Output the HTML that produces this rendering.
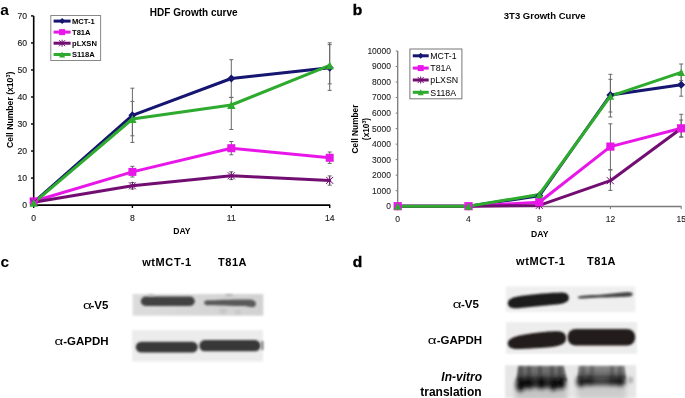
<!DOCTYPE html>
<html><head><meta charset="utf-8"><title>Figure</title>
<style>html,body{margin:0;padding:0;background:#fff;}body{width:685px;height:398px;overflow:hidden;}svg{display:block;}
text{font-family:"Liberation Sans", sans-serif;}</style></head>
<body><svg width="685" height="398" viewBox="0 0 685 398"><defs><filter id="b1" x="0" y="0" width="685" height="398" filterUnits="userSpaceOnUse"><feGaussianBlur stdDeviation="0.9"/></filter><linearGradient id="gc1" x1="0" y1="0" x2="1" y2="0"><stop offset="0" stop-color="#dcdcdc"/><stop offset="1" stop-color="#d2d2d2"/></linearGradient><linearGradient id="giv" x1="0" y1="0" x2="0" y2="1"><stop offset="0" stop-color="#d4d4d4"/><stop offset="1" stop-color="#e2e2e2"/></linearGradient><linearGradient id="gs1" x1="0" y1="0" x2="0" y2="1"><stop offset="0" stop-color="#7a7a7a"/><stop offset="1" stop-color="#555555"/></linearGradient><linearGradient id="gs2" x1="0" y1="0" x2="0" y2="1"><stop offset="0" stop-color="#8c8c8c"/><stop offset="1" stop-color="#606060"/></linearGradient><filter id="b3" x="0" y="0" width="685" height="398" filterUnits="userSpaceOnUse"><feGaussianBlur stdDeviation="2.5"/></filter><filter id="b4" x="0" y="0" width="685" height="398" filterUnits="userSpaceOnUse"><feGaussianBlur stdDeviation="2.0"/></filter><filter id="b2" x="0" y="0" width="685" height="398" filterUnits="userSpaceOnUse"><feGaussianBlur stdDeviation="1.6"/></filter><filter id="gb" x="0" y="0" width="685" height="398" filterUnits="userSpaceOnUse"><feGaussianBlur stdDeviation="0.35"/></filter></defs><rect width="685" height="398" fill="#fff"/><g filter="url(#gb)"><path d="M33.7 15.9L33.7 205.1L330.2 205.1" stroke="#000" stroke-width="1.6" fill="none"/><path d="M31 205.10L33.7 205.10" stroke="#000" stroke-width="1.4"/><path d="M31 178.07L33.7 178.07" stroke="#000" stroke-width="1.4"/><path d="M31 151.04L33.7 151.04" stroke="#000" stroke-width="1.4"/><path d="M31 124.01L33.7 124.01" stroke="#000" stroke-width="1.4"/><path d="M31 96.99L33.7 96.99" stroke="#000" stroke-width="1.4"/><path d="M31 69.96L33.7 69.96" stroke="#000" stroke-width="1.4"/><path d="M31 42.93L33.7 42.93" stroke="#000" stroke-width="1.4"/><path d="M31 15.90L33.7 15.90" stroke="#000" stroke-width="1.4"/><path d="M33.7 205.1L33.7 208" stroke="#000" stroke-width="1.4"/><path d="M132.4 205.1L132.4 208" stroke="#000" stroke-width="1.4"/><path d="M231.3 205.1L231.3 208" stroke="#000" stroke-width="1.4"/><path d="M329.7 205.1L329.7 208" stroke="#000" stroke-width="1.4"/><text x="0" y="0" font-size="9.5" text-anchor="end" fill="#1e1e1e" stroke="#1e1e1e" stroke-width="0.15" transform="translate(27.1 208.10) scale(0.91 1)">0</text><text x="0" y="0" font-size="9.5" text-anchor="end" fill="#1e1e1e" stroke="#1e1e1e" stroke-width="0.15" transform="translate(27.1 181.07) scale(0.91 1)">10</text><text x="0" y="0" font-size="9.5" text-anchor="end" fill="#1e1e1e" stroke="#1e1e1e" stroke-width="0.15" transform="translate(27.1 154.04) scale(0.91 1)">20</text><text x="0" y="0" font-size="9.5" text-anchor="end" fill="#1e1e1e" stroke="#1e1e1e" stroke-width="0.15" transform="translate(27.1 127.01) scale(0.91 1)">30</text><text x="0" y="0" font-size="9.5" text-anchor="end" fill="#1e1e1e" stroke="#1e1e1e" stroke-width="0.15" transform="translate(27.1 99.99) scale(0.91 1)">40</text><text x="0" y="0" font-size="9.5" text-anchor="end" fill="#1e1e1e" stroke="#1e1e1e" stroke-width="0.15" transform="translate(27.1 72.96) scale(0.91 1)">50</text><text x="0" y="0" font-size="9.5" text-anchor="end" fill="#1e1e1e" stroke="#1e1e1e" stroke-width="0.15" transform="translate(27.1 45.93) scale(0.91 1)">60</text><text x="0" y="0" font-size="9.5" text-anchor="end" fill="#1e1e1e" stroke="#1e1e1e" stroke-width="0.15" transform="translate(27.1 18.90) scale(0.91 1)">70</text><text x="0" y="0" font-size="9.1" text-anchor="middle" fill="#1e1e1e" stroke="#1e1e1e" stroke-width="0.15" transform="translate(33.7 220.6) scale(0.95 1)">0</text><text x="0" y="0" font-size="9.1" text-anchor="middle" fill="#1e1e1e" stroke="#1e1e1e" stroke-width="0.15" transform="translate(132.4 220.6) scale(0.95 1)">8</text><text x="0" y="0" font-size="9.1" text-anchor="middle" fill="#1e1e1e" stroke="#1e1e1e" stroke-width="0.15" transform="translate(231.3 220.6) scale(0.95 1)">11</text><text x="0" y="0" font-size="9.1" text-anchor="middle" fill="#1e1e1e" stroke="#1e1e1e" stroke-width="0.15" transform="translate(329.7 220.6) scale(0.95 1)">14</text><text x="181.90" y="233.90" font-family='"Liberation Sans", sans-serif' font-size="8.6" font-weight="bold" font-style="normal" text-anchor="middle" >DAY</text><text x="193.70" y="16.00" font-family='"Liberation Sans", sans-serif' font-size="10" font-weight="bold" font-style="normal" text-anchor="middle" >HDF Growth curve</text><text x="12.90" y="109.90" font-family='"Liberation Sans", sans-serif' font-size="8.65" font-weight="bold" font-style="normal" text-anchor="middle" transform="rotate(-90 12.9 109.9)">Cell Number (x10<tspan font-size="5.4" dy="-3.2">3</tspan><tspan dy="3.2">)</tspan></text><polyline points="33.70,202.30 132.40,115.30 231.30,78.50 329.70,67.70" fill="none" stroke="#141470" stroke-width="3" stroke-linejoin="round" stroke-linecap="round"/><polyline points="33.70,201.30 132.40,171.90 231.30,148.20 329.70,157.80" fill="none" stroke="#e818e8" stroke-width="3" stroke-linejoin="round" stroke-linecap="round"/><polyline points="33.70,202.30 132.40,185.80 231.30,175.80 329.70,180.40" fill="none" stroke="#720c72" stroke-width="3" stroke-linejoin="round" stroke-linecap="round"/><polyline points="33.70,202.80 132.40,119.00 231.30,105.00 329.70,65.40" fill="none" stroke="#2eaa2e" stroke-width="3" stroke-linejoin="round" stroke-linecap="round"/><path d="M132.40 88.20L132.40 142.40M130.40 88.20L134.40 88.20M130.40 142.40L134.40 142.40" stroke="#686868" stroke-width="1.0" fill="none"/><path d="M231.30 59.70L231.30 97.40M229.30 59.70L233.30 59.70M229.30 97.40L233.30 97.40" stroke="#686868" stroke-width="1.0" fill="none"/><path d="M329.70 44.60L329.70 90.40M327.70 44.60L331.70 44.60M327.70 90.40L331.70 90.40" stroke="#686868" stroke-width="1.0" fill="none"/><path d="M132.40 101.40L132.40 135.80M130.40 101.40L134.40 101.40M130.40 135.80L134.40 135.80" stroke="#686868" stroke-width="1.0" fill="none"/><path d="M231.30 97.40L231.30 129.50M229.30 97.40L233.30 97.40M229.30 129.50L233.30 129.50" stroke="#686868" stroke-width="1.0" fill="none"/><path d="M329.70 42.80L329.70 83.90M327.70 42.80L331.70 42.80M327.70 83.90L331.70 83.90" stroke="#686868" stroke-width="1.0" fill="none"/><path d="M132.40 166.30L132.40 177.00M130.40 166.30L134.40 166.30M130.40 177.00L134.40 177.00" stroke="#686868" stroke-width="1.0" fill="none"/><path d="M231.30 141.50L231.30 154.80M229.30 141.50L233.30 141.50M229.30 154.80L233.30 154.80" stroke="#686868" stroke-width="1.0" fill="none"/><path d="M329.70 152.00L329.70 163.40M327.70 152.00L331.70 152.00M327.70 163.40L331.70 163.40" stroke="#686868" stroke-width="1.0" fill="none"/><path d="M132.40 182.50L132.40 189.00M130.40 182.50L134.40 182.50M130.40 189.00L134.40 189.00" stroke="#686868" stroke-width="1.0" fill="none"/><path d="M231.30 171.80L231.30 179.60M229.30 171.80L233.30 171.80M229.30 179.60L233.30 179.60" stroke="#686868" stroke-width="1.0" fill="none"/><path d="M329.70 175.90L329.70 185.20M327.70 175.90L331.70 175.90M327.70 185.20L331.70 185.20" stroke="#686868" stroke-width="1.0" fill="none"/><path d="M29.70 202.30L33.70 198.30L37.70 202.30L33.70 206.30Z" fill="#141470"/><path d="M128.40 115.30L132.40 111.30L136.40 115.30L132.40 119.30Z" fill="#141470"/><path d="M227.30 78.50L231.30 74.50L235.30 78.50L231.30 82.50Z" fill="#141470"/><path d="M325.70 67.70L329.70 63.70L333.70 67.70L329.70 71.70Z" fill="#141470"/><rect x="29.70" y="197.30" width="8" height="8" fill="#e818e8"/><rect x="128.40" y="167.90" width="8" height="8" fill="#e818e8"/><rect x="227.30" y="144.20" width="8" height="8" fill="#e818e8"/><rect x="325.70" y="153.80" width="8" height="8" fill="#e818e8"/><path d="M30.20 198.80L37.20 205.80M30.20 205.80L37.20 198.80M33.70 198.30L33.70 206.30" stroke="#720c72" stroke-width="1" fill="none"/><path d="M128.90 182.30L135.90 189.30M128.90 189.30L135.90 182.30M132.40 181.80L132.40 189.80" stroke="#720c72" stroke-width="1" fill="none"/><path d="M227.80 172.30L234.80 179.30M227.80 179.30L234.80 172.30M231.30 171.80L231.30 179.80" stroke="#720c72" stroke-width="1" fill="none"/><path d="M326.20 176.90L333.20 183.90M326.20 183.90L333.20 176.90M329.70 176.40L329.70 184.40" stroke="#720c72" stroke-width="1" fill="none"/><path d="M29.50 206.70L33.70 198.90L37.90 206.70Z" fill="#2eaa2e"/><path d="M128.20 122.90L132.40 115.10L136.60 122.90Z" fill="#2eaa2e"/><path d="M227.10 108.90L231.30 101.10L235.50 108.90Z" fill="#2eaa2e"/><path d="M325.50 69.30L329.70 61.50L333.90 69.30Z" fill="#2eaa2e"/><rect x="50.8" y="15.5" width="49.8" height="45" fill="#fff" stroke="#888" stroke-width="1"/><path d="M53.6 21.1L70.6 21.1" stroke="#141470" stroke-width="3"/><path d="M59.10 21.10L62.10 18.10L65.10 21.10L62.10 24.10Z" fill="#141470"/><text x="72.00" y="23.80" font-family='"Liberation Sans", sans-serif' font-size="7.6" font-weight="bold" font-style="normal" text-anchor="start" >MCT-1</text><path d="M53.6 32.1L70.6 32.1" stroke="#e818e8" stroke-width="3"/><rect x="59.10" y="29.10" width="6" height="6" fill="#e818e8"/><text x="72.00" y="34.80" font-family='"Liberation Sans", sans-serif' font-size="7.6" font-weight="bold" font-style="normal" text-anchor="start" >T81A</text><path d="M53.6 43.2L70.6 43.2" stroke="#720c72" stroke-width="3"/><path d="M59.10 40.20L65.10 46.20M59.10 46.20L65.10 40.20M62.10 39.70L62.10 46.70" stroke="#720c72" stroke-width="1" fill="none"/><text x="72.00" y="45.90" font-family='"Liberation Sans", sans-serif' font-size="7.6" font-weight="bold" font-style="normal" text-anchor="start" >pLXSN</text><path d="M53.6 54.5L70.6 54.5" stroke="#2eaa2e" stroke-width="3"/><path d="M59.10 57.50L62.10 51.50L65.10 57.50Z" fill="#2eaa2e"/><text x="72.00" y="57.20" font-family='"Liberation Sans", sans-serif' font-size="7.6" font-weight="bold" font-style="normal" text-anchor="start" >S118A</text><path d="M397.7 51L397.7 206.5L681.5 206.5" stroke="#7a7a7a" stroke-width="1.3" fill="none"/><path d="M395.7 206.20L397.7 206.20" stroke="#7a7a7a" stroke-width="1"/><path d="M395.7 190.68L397.7 190.68" stroke="#7a7a7a" stroke-width="1"/><path d="M395.7 175.16L397.7 175.16" stroke="#7a7a7a" stroke-width="1"/><path d="M395.7 159.64L397.7 159.64" stroke="#7a7a7a" stroke-width="1"/><path d="M395.7 144.12L397.7 144.12" stroke="#7a7a7a" stroke-width="1"/><path d="M395.7 128.60L397.7 128.60" stroke="#7a7a7a" stroke-width="1"/><path d="M395.7 113.08L397.7 113.08" stroke="#7a7a7a" stroke-width="1"/><path d="M395.7 97.56L397.7 97.56" stroke="#7a7a7a" stroke-width="1"/><path d="M395.7 82.04L397.7 82.04" stroke="#7a7a7a" stroke-width="1"/><path d="M395.7 66.52L397.7 66.52" stroke="#7a7a7a" stroke-width="1"/><path d="M395.7 51.00L397.7 51.00" stroke="#7a7a7a" stroke-width="1"/><path d="M397.7 206.5L397.7 209" stroke="#7a7a7a" stroke-width="1"/><path d="M468.5 206.5L468.5 209" stroke="#7a7a7a" stroke-width="1"/><path d="M539.3 206.5L539.3 209" stroke="#7a7a7a" stroke-width="1"/><path d="M610.4 206.5L610.4 209" stroke="#7a7a7a" stroke-width="1"/><path d="M681.2 206.5L681.2 209" stroke="#7a7a7a" stroke-width="1"/><text x="0" y="0" font-size="9.6" text-anchor="end" fill="#1e1e1e" stroke="#1e1e1e" stroke-width="0.1" transform="translate(391.0 209.10) scale(0.885 1)">0</text><text x="0" y="0" font-size="9.6" text-anchor="end" fill="#1e1e1e" stroke="#1e1e1e" stroke-width="0.1" transform="translate(391.0 193.58) scale(0.885 1)">1000</text><text x="0" y="0" font-size="9.6" text-anchor="end" fill="#1e1e1e" stroke="#1e1e1e" stroke-width="0.1" transform="translate(391.0 178.06) scale(0.885 1)">2000</text><text x="0" y="0" font-size="9.6" text-anchor="end" fill="#1e1e1e" stroke="#1e1e1e" stroke-width="0.1" transform="translate(391.0 162.54) scale(0.885 1)">3000</text><text x="0" y="0" font-size="9.6" text-anchor="end" fill="#1e1e1e" stroke="#1e1e1e" stroke-width="0.1" transform="translate(391.0 147.02) scale(0.885 1)">4000</text><text x="0" y="0" font-size="9.6" text-anchor="end" fill="#1e1e1e" stroke="#1e1e1e" stroke-width="0.1" transform="translate(391.0 131.50) scale(0.885 1)">5000</text><text x="0" y="0" font-size="9.6" text-anchor="end" fill="#1e1e1e" stroke="#1e1e1e" stroke-width="0.1" transform="translate(391.0 115.98) scale(0.885 1)">6000</text><text x="0" y="0" font-size="9.6" text-anchor="end" fill="#1e1e1e" stroke="#1e1e1e" stroke-width="0.1" transform="translate(391.0 100.46) scale(0.885 1)">7000</text><text x="0" y="0" font-size="9.6" text-anchor="end" fill="#1e1e1e" stroke="#1e1e1e" stroke-width="0.1" transform="translate(391.0 84.94) scale(0.885 1)">8000</text><text x="0" y="0" font-size="9.6" text-anchor="end" fill="#1e1e1e" stroke="#1e1e1e" stroke-width="0.1" transform="translate(391.0 69.42) scale(0.885 1)">9000</text><text x="0" y="0" font-size="9.6" text-anchor="end" fill="#1e1e1e" stroke="#1e1e1e" stroke-width="0.1" transform="translate(391.0 53.90) scale(0.885 1)">10000</text><text x="0" y="0" font-size="9.2" text-anchor="middle" fill="#1e1e1e" stroke="#1e1e1e" stroke-width="0.1" transform="translate(397.7 222.2) scale(0.93 1)">0</text><text x="0" y="0" font-size="9.2" text-anchor="middle" fill="#1e1e1e" stroke="#1e1e1e" stroke-width="0.1" transform="translate(468.5 222.2) scale(0.93 1)">4</text><text x="0" y="0" font-size="9.2" text-anchor="middle" fill="#1e1e1e" stroke="#1e1e1e" stroke-width="0.1" transform="translate(539.3 222.2) scale(0.93 1)">8</text><text x="0" y="0" font-size="9.2" text-anchor="middle" fill="#1e1e1e" stroke="#1e1e1e" stroke-width="0.1" transform="translate(610.4 222.2) scale(0.93 1)">12</text><text x="0" y="0" font-size="9.2" text-anchor="middle" fill="#1e1e1e" stroke="#1e1e1e" stroke-width="0.1" transform="translate(681.2 222.2) scale(0.93 1)">15</text><text x="539.80" y="237.30" font-family='"Liberation Sans", sans-serif' font-size="8.6" font-weight="bold" font-style="normal" text-anchor="middle" >DAY</text><text x="544.75" y="18.90" font-family='"Liberation Sans", sans-serif' font-size="9.5" font-weight="bold" font-style="normal" text-anchor="middle" >3T3 Growth Curve</text><text x="357.60" y="129.00" font-family='"Liberation Sans", sans-serif' font-size="8.3" font-weight="bold" font-style="normal" text-anchor="middle" transform="rotate(-90 357.6 129)">Cell Number</text><text x="369.20" y="129.00" font-family='"Liberation Sans", sans-serif' font-size="8.3" font-weight="bold" font-style="normal" text-anchor="middle" transform="rotate(-90 369.2 129)">(x10<tspan font-size="5.2" dy="-3">3</tspan><tspan dy="3">)</tspan></text><polyline points="397.70,206.20 468.50,206.20 539.30,195.80 610.40,95.00 681.20,84.70" fill="none" stroke="#141470" stroke-width="3" stroke-linejoin="round" stroke-linecap="round"/><polyline points="397.70,206.20 468.50,206.20 539.30,202.20 610.40,146.60 681.20,128.30" fill="none" stroke="#e818e8" stroke-width="3" stroke-linejoin="round" stroke-linecap="round"/><polyline points="397.70,206.20 468.50,206.20 539.30,205.40 610.40,180.70 681.20,128.50" fill="none" stroke="#720c72" stroke-width="3" stroke-linejoin="round" stroke-linecap="round"/><polyline points="397.70,206.20 468.50,206.20 539.30,194.50 610.40,96.20 681.20,72.30" fill="none" stroke="#2eaa2e" stroke-width="3" stroke-linejoin="round" stroke-linecap="round"/><path d="M610.40 74.30L610.40 117.00M608.40 74.30L612.40 74.30M608.40 117.00L612.40 117.00" stroke="#686868" stroke-width="1.0" fill="none"/><path d="M681.20 73.20L681.20 96.20M679.20 73.20L683.20 73.20M679.20 96.20L683.20 96.20" stroke="#686868" stroke-width="1.0" fill="none"/><path d="M610.40 79.30L610.40 112.00M608.40 79.30L612.40 79.30M608.40 112.00L612.40 112.00" stroke="#686868" stroke-width="1.0" fill="none"/><path d="M681.20 64.00L681.20 80.60M679.20 64.00L683.20 64.00M679.20 80.60L683.20 80.60" stroke="#686868" stroke-width="1.0" fill="none"/><path d="M610.40 123.80L610.40 169.80M608.40 123.80L612.40 123.80M608.40 169.80L612.40 169.80" stroke="#686868" stroke-width="1.0" fill="none"/><path d="M681.20 114.30L681.20 137.00M679.20 114.30L683.20 114.30M679.20 137.00L683.20 137.00" stroke="#686868" stroke-width="1.0" fill="none"/><path d="M610.40 169.90L610.40 190.40M608.40 169.90L612.40 169.90M608.40 190.40L612.40 190.40" stroke="#686868" stroke-width="1.0" fill="none"/><path d="M681.20 120.00L681.20 137.00M679.20 120.00L683.20 120.00M679.20 137.00L683.20 137.00" stroke="#686868" stroke-width="1.0" fill="none"/><path d="M393.70 206.20L397.70 202.20L401.70 206.20L397.70 210.20Z" fill="#141470"/><path d="M464.50 206.20L468.50 202.20L472.50 206.20L468.50 210.20Z" fill="#141470"/><path d="M535.30 195.80L539.30 191.80L543.30 195.80L539.30 199.80Z" fill="#141470"/><path d="M606.40 95.00L610.40 91.00L614.40 95.00L610.40 99.00Z" fill="#141470"/><path d="M677.20 84.70L681.20 80.70L685.20 84.70L681.20 88.70Z" fill="#141470"/><path d="M394.20 202.70L401.20 209.70M394.20 209.70L401.20 202.70M397.70 202.20L397.70 210.20" stroke="#720c72" stroke-width="1" fill="none"/><path d="M465.00 202.70L472.00 209.70M465.00 209.70L472.00 202.70M468.50 202.20L468.50 210.20" stroke="#720c72" stroke-width="1" fill="none"/><path d="M535.80 201.90L542.80 208.90M535.80 208.90L542.80 201.90M539.30 201.40L539.30 209.40" stroke="#720c72" stroke-width="1" fill="none"/><path d="M606.90 177.20L613.90 184.20M606.90 184.20L613.90 177.20M610.40 176.70L610.40 184.70" stroke="#720c72" stroke-width="1" fill="none"/><path d="M677.70 125.00L684.70 132.00M677.70 132.00L684.70 125.00M681.20 124.50L681.20 132.50" stroke="#720c72" stroke-width="1" fill="none"/><rect x="393.60" y="202.10" width="8.2" height="8.2" fill="#e818e8"/><rect x="464.40" y="202.10" width="8.2" height="8.2" fill="#e818e8"/><rect x="535.20" y="198.10" width="8.2" height="8.2" fill="#e818e8"/><rect x="606.30" y="142.50" width="8.2" height="8.2" fill="#e818e8"/><rect x="677.10" y="124.20" width="8.2" height="8.2" fill="#e818e8"/><path d="M393.95 209.85L397.70 202.55L401.45 209.85Z" fill="#2eaa2e"/><path d="M464.75 209.85L468.50 202.55L472.25 209.85Z" fill="#2eaa2e"/><path d="M535.55 198.15L539.30 190.85L543.05 198.15Z" fill="#2eaa2e"/><path d="M606.65 99.85L610.40 92.55L614.15 99.85Z" fill="#2eaa2e"/><path d="M677.45 75.95L681.20 68.65L684.95 75.95Z" fill="#2eaa2e"/><rect x="409.9" y="49" width="52" height="49.8" fill="#fff" stroke="#777" stroke-width="1"/><path d="M412.8 55.8L428.7 55.8" stroke="#141470" stroke-width="3"/><path d="M417.70 55.80L420.70 52.80L423.70 55.80L420.70 58.80Z" fill="#141470"/><text x="430.30" y="59.00" font-family='"Liberation Sans", sans-serif' font-size="8.8" font-weight="normal" font-style="normal" text-anchor="start" >MCT-1</text><path d="M412.8 68.1L428.7 68.1" stroke="#e818e8" stroke-width="3"/><rect x="417.70" y="65.10" width="6" height="6" fill="#e818e8"/><text x="430.30" y="71.30" font-family='"Liberation Sans", sans-serif' font-size="8.8" font-weight="normal" font-style="normal" text-anchor="start" >T81A</text><path d="M412.8 80.0L428.7 80.0" stroke="#720c72" stroke-width="3"/><path d="M417.70 77.00L423.70 83.00M417.70 83.00L423.70 77.00M420.70 76.50L420.70 83.50" stroke="#720c72" stroke-width="1" fill="none"/><text x="430.30" y="83.20" font-family='"Liberation Sans", sans-serif' font-size="8.8" font-weight="normal" font-style="normal" text-anchor="start" >pLXSN</text><path d="M412.8 92.3L428.7 92.3" stroke="#2eaa2e" stroke-width="3"/><path d="M417.70 95.30L420.70 89.30L423.70 95.30Z" fill="#2eaa2e"/><text x="430.30" y="95.50" font-family='"Liberation Sans", sans-serif' font-size="8.8" font-weight="normal" font-style="normal" text-anchor="start" >S118A</text><text x="0.20" y="15.00" font-family='"Liberation Sans", sans-serif' font-size="15.5" font-weight="bold" font-style="normal" text-anchor="start" >a</text><text x="352.80" y="15.40" font-family='"Liberation Sans", sans-serif' font-size="15.5" font-weight="bold" font-style="normal" text-anchor="start" stroke="#000" stroke-width="0.4">b</text><text x="0.40" y="267.40" font-family='"Liberation Sans", sans-serif' font-size="15.5" font-weight="bold" font-style="normal" text-anchor="start" >c</text><text x="352.80" y="267.40" font-family='"Liberation Sans", sans-serif' font-size="15.5" font-weight="bold" font-style="normal" text-anchor="start" stroke="#000" stroke-width="0.4">d</text><text x="142.20" y="266.00" font-family='"Liberation Sans", sans-serif' font-size="11" font-weight="bold" font-style="normal" text-anchor="start" letter-spacing="0.6">wtMCT-1</text><text x="218.00" y="266.00" font-family='"Liberation Sans", sans-serif' font-size="11" font-weight="bold" font-style="normal" text-anchor="start" letter-spacing="0.55">T81A</text><text x="108.3" y="309" text-anchor="end" font-size="11.5" font-weight="bold" font-family='"Liberation Sans", sans-serif'>-V5</text><text x="0" y="0" font-size="11.5" font-family='"Liberation Serif", serif' transform="translate(83.0 309) scale(1.32 1)">&#945;</text><text x="108.6" y="345" text-anchor="end" font-size="11.5" font-weight="bold" font-family='"Liberation Sans", sans-serif'>-GAPDH</text><text x="0" y="0" font-size="11.5" font-family='"Liberation Serif", serif' transform="translate(54.6 345) scale(1.32 1)">&#945;</text><rect x="132.6" y="294" width="130.7" height="21.7" fill="url(#gc1)" filter="url(#b1)"/><rect x="140.8" y="296.5" width="54" height="9.4" rx="4.7" fill="#424242" filter="url(#b1)"/><path d="M206 300.6 C215 299.8 235 299.4 250 299.5 C256 299.8 257.5 304.5 254.5 306.8 C252 308 248 306.5 245 306 C230 305.8 215 305.6 206.5 305.2 C203.5 304.8 203.5 301 206 300.6 Z" fill="#5a5a5a" filter="url(#b1)"/><ellipse cx="229" cy="295.2" rx="4" ry="1" fill="#b0b0b0" filter="url(#b1)"/><ellipse cx="151" cy="295.2" rx="3" ry="0.9" fill="#b8b8b8" filter="url(#b1)"/><ellipse cx="223" cy="311" rx="4" ry="2.5" fill="#c4c4c4" filter="url(#b2)"/><ellipse cx="238" cy="312" rx="3" ry="2" fill="#c4c4c4" filter="url(#b2)"/><rect x="132.2" y="330" width="130.6" height="31.6" fill="#ececec" filter="url(#b1)"/><rect x="135.8" y="341.7" width="62" height="10.9" rx="5.4" fill="#383838" filter="url(#b1)"/><rect x="199.3" y="340.1" width="61.2" height="11.2" rx="5.5" fill="#383838" filter="url(#b1)"/><rect x="261.6" y="341" width="1.6" height="9" fill="#555" filter="url(#b1)"/><text x="516.00" y="265.30" font-family='"Liberation Sans", sans-serif' font-size="11" font-weight="bold" font-style="normal" text-anchor="start" letter-spacing="0.6">wtMCT-1</text><text x="587.00" y="265.30" font-family='"Liberation Sans", sans-serif' font-size="11" font-weight="bold" font-style="normal" text-anchor="start" letter-spacing="0.55">T81A</text><text x="478.8" y="308.4" text-anchor="end" font-size="11.5" font-weight="bold" font-family='"Liberation Sans", sans-serif'>-V5</text><text x="0" y="0" font-size="11.5" font-family='"Liberation Serif", serif' transform="translate(452.8 308.4) scale(1.32 1)">&#945;</text><text x="482" y="344.3" text-anchor="end" font-size="11.5" font-weight="bold" font-family='"Liberation Sans", sans-serif'>-GAPDH</text><text x="0" y="0" font-size="11.5" font-family='"Liberation Serif", serif' transform="translate(427.7 344.3) scale(1.32 1)">&#945;</text><text x="482.00" y="381.30" font-family='"Liberation Sans", sans-serif' font-size="12" font-weight="bold" font-style="italic" text-anchor="end" >In-vitro</text><text x="481.60" y="395.70" font-family='"Liberation Sans", sans-serif' font-size="12" font-weight="bold" font-style="normal" text-anchor="end" >translation</text><rect x="505.8" y="286.4" width="129.6" height="25.6" fill="#efefef" filter="url(#b1)"/><path d="M507.8 303.2 C508 298.8 513 297 524 295.6 C535 294.2 550 292.8 562 292.6 C567.5 292.6 569.5 296 568.8 299 C568 302.5 563 303.8 556 304.6 C545 305.8 535 306.5 525 307.5 C515 308.8 508 309 507.8 303.2 Z" fill="#1c1c1c" filter="url(#b1)"/><path d="M577.5 297.4 C578 295.5 590 295.3 600 294.8 C610 294.2 620 292.3 628 292.1 C633.5 292.1 634.5 295.6 630 296.5 C622 297.1 610 297.3 600 297.6 C590 298 580 299.6 577.5 297.4 Z" fill="#464646" filter="url(#b1)"/><rect x="506" y="322.1" width="131" height="31.7" fill="#ededed" filter="url(#b1)"/><path d="M507.8 343 C508.2 338.5 515 336 528 334 C542 332 552 331.2 559.5 331.4 C565 331.7 566.5 336 566 339.5 C565.5 344 560 346 552 347 C540 348 528 348.6 518 349 C511 349.2 507.6 347 507.8 343 Z" fill="#211a1a" filter="url(#b1)"/><rect x="567.6" y="329" width="67.6" height="16.6" rx="8" fill="#221b1b" filter="url(#b1)"/><rect x="505" y="365.2" width="131.2" height="33" fill="#e6e6e6" filter="url(#b1)"/><rect x="515" y="386" width="52" height="14" fill="#c4c4c4" filter="url(#b3)"/><rect x="577" y="385" width="49" height="14" fill="#cccccc" filter="url(#b3)"/><path d="M518 366 L564 366 L567 381 L516.5 381 Z" fill="url(#gs1)" filter="url(#b1)"/><path d="M578.5 366 L624.7 366 L626 379 L577.5 379 Z" fill="url(#gs2)" filter="url(#b1)"/><g filter="url(#b2)"><rect x="519.5" y="367" width="3" height="12" fill="#484848"/><rect x="527.5" y="367" width="3" height="12" fill="#484848"/><rect x="538.5" y="367" width="3" height="12" fill="#484848"/><rect x="550.5" y="367" width="3" height="12" fill="#484848"/><rect x="558.5" y="367" width="3" height="12" fill="#484848"/></g><g filter="url(#b2)"><rect x="581.5" y="367" width="3" height="11" fill="#585858"/><rect x="590.5" y="367" width="3" height="11" fill="#585858"/><rect x="610.5" y="367" width="3" height="11" fill="#585858"/><rect x="618.5" y="367" width="3" height="11" fill="#585858"/></g><g filter="url(#b4)"><rect x="517" y="377" width="49" height="11" rx="4" fill="#333"/><ellipse cx="520.5" cy="384.5" rx="4.6" ry="7.2" fill="#111"/><ellipse cx="529" cy="383" rx="4.4" ry="6.2" fill="#111"/><ellipse cx="541.5" cy="383" rx="4.8" ry="6.2" fill="#111"/><ellipse cx="553.5" cy="384" rx="4.4" ry="6.6" fill="#111"/><ellipse cx="561" cy="383" rx="4.2" ry="6.2" fill="#111"/></g><g filter="url(#b4)"><rect x="578" y="376.5" width="48" height="9" rx="4" fill="#3e3e3e"/><ellipse cx="581" cy="381.5" rx="4.6" ry="5.6" fill="#1c1c1c"/><ellipse cx="590" cy="380.5" rx="4.2" ry="5.2" fill="#222"/><ellipse cx="612" cy="380.5" rx="4.2" ry="5.2" fill="#262626"/><ellipse cx="620" cy="381" rx="4.6" ry="5.6" fill="#1c1c1c"/></g><ellipse cx="630.5" cy="380" rx="2.5" ry="3.5" fill="#b0b0b0" filter="url(#b2)"/></g></svg></body></html>
